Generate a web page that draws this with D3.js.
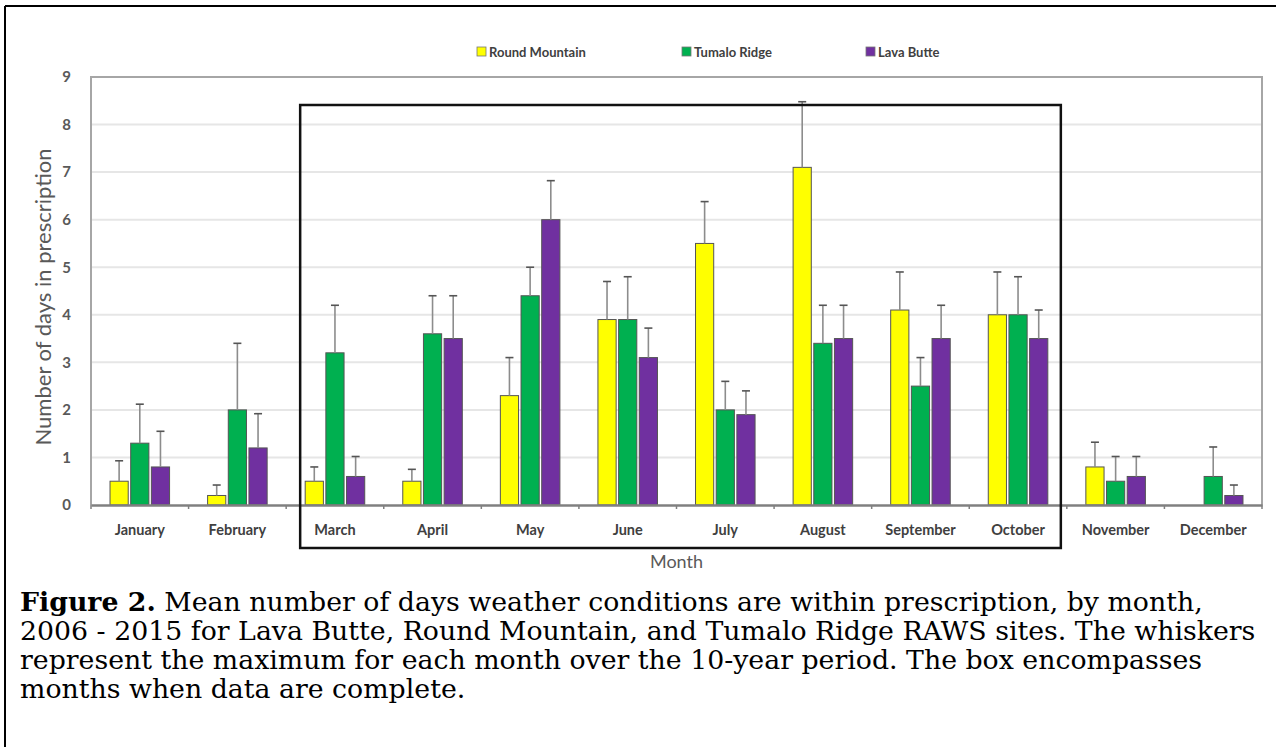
<!DOCTYPE html>
<html>
<head>
<meta charset="utf-8">
<script src="https://cdn.jsdelivr.net/npm/d3@7/dist/d3.min.js"></script>
<style>
  html, body { margin: 0; padding: 0; background: #fff; }
  svg { display: block; }
</style>
</head>
<body>
<svg id="chart" width="1276" height="747"></svg>
<script>
const months = ["January","February","March","April","May","June","July","August","September","October","November","December"];
const series = ["Round Mountain","Tumalo Ridge","Lava Butte"];
const colors = ["#FFFF00","#00B050","#7030A0"];
const roundMountain     = [0.5, 0.2, 0.5, 0.5, 2.3, 3.9, 5.5, 7.1, 4.1, 4.0, 0.8, 0];
const roundMountainMax  = [0.93, 0.42, 0.8, 0.75, 3.1, 4.7, 6.38, 8.48, 4.9, 4.9, 1.32, null];
const tumaloRidge       = [1.3, 2.0, 3.2, 3.6, 4.4, 3.9, 2.0, 3.4, 2.5, 4.0, 0.5, 0.6];
const tumaloRidgeMax    = [2.12, 3.4, 4.2, 4.4, 5.0, 4.8, 2.6, 4.2, 3.1, 4.8, 1.02, 1.22];
const lavaButte         = [0.8, 1.2, 0.6, 3.5, 6.0, 3.1, 1.9, 3.5, 3.5, 3.5, 0.6, 0.2];
const lavaButteMax      = [1.55, 1.92, 1.02, 4.4, 6.82, 3.72, 2.4, 4.2, 4.2, 4.1, 1.02, 0.42];
const yTicks = [0,1,2,3,4,5,6,7,8,9];
const boxMonths = ["March","October"];
const yTitle = "Number of days in prescription";
const xTitle = "Month";
const captionBold = "Figure 2.";
const captionLines = [
  " Mean number of days weather conditions are within prescription, by month,",
  "2006 - 2015 for Lava Butte, Round Mountain, and Tumalo Ridge RAWS sites. The whiskers",
  "represent the maximum for each month over the 10-year period. The box encompasses",
  "months when data are complete."
];

const values = [roundMountain, tumaloRidge, lavaButte];
const maxes = [roundMountainMax, tumaloRidgeMax, lavaButteMax];

const svg = d3.select("#chart");
const W = 1276, H = 747;
const plot = {left: 91, right: 1262, top: 77, bottom: 505};

// outer frame
svg.append("line").attr("x1",5).attr("x2",W).attr("y1",6).attr("y2",6).attr("stroke","#000").attr("stroke-width",2);
svg.append("line").attr("x1",5).attr("x2",5).attr("y1",6).attr("y2",H).attr("stroke","#000").attr("stroke-width",2);

const x0 = d3.scaleBand().domain(months).range([plot.left, plot.right]).paddingInner(0).paddingOuter(0);
const x1 = d3.scaleBand().domain(series).range([0, x0.bandwidth()]).paddingInner(0.12).paddingOuter(0.92);
const y = d3.scaleLinear().domain([0, 9]).range([plot.bottom, plot.top]);

const chartFont = "Lato, 'Open Sans', sans-serif";

// gridlines
svg.append("g").selectAll("line").data(yTicks.filter(d => d > 0 && d < 9)).join("line")
  .attr("x1", plot.left).attr("x2", plot.right)
  .attr("y1", d => y(d)).attr("y2", d => y(d))
  .attr("stroke", "#e6e6e6").attr("stroke-width", 2);

// plot frame (top, left, right)
svg.append("path")
  .attr("d", `M${plot.left},${plot.bottom} V${y(9)} H${plot.right} V${plot.bottom}`)
  .attr("fill","none").attr("stroke","#a6a6a6").attr("stroke-width",2);

// y axis labels
const yAxis = d3.axisLeft(y).tickValues(yTicks).tickSize(0).tickPadding(20);
const gy = svg.append("g").attr("transform", `translate(${plot.left},0)`).call(yAxis);
gy.select(".domain").remove();
gy.selectAll("text").attr("font-family", chartFont).attr("font-weight", "bold")
  .attr("font-size", 15).attr("fill", "#595959");

// bars
const groups = svg.append("g").selectAll("g").data(months).join("g")
  .attr("transform", d => `translate(${x0(d)},0)`);

series.forEach((s, si) => {
  groups.filter((m, i) => values[si][i] > 0).append("rect")
    .attr("x", x1(s))
    .attr("width", x1.bandwidth())
    .attr("y", (m) => y(values[si][months.indexOf(m)]))
    .attr("height", (m) => y(0) - y(values[si][months.indexOf(m)]))
    .attr("fill", colors[si])
    .attr("stroke", "#555").attr("stroke-width", 1);
});

// whiskers
series.forEach((s, si) => {
  const g = groups.filter((m, i) => maxes[si][i] != null);
  const cx = x1(s) + x1.bandwidth() / 2;
  g.append("line")
    .attr("x1", cx).attr("x2", cx)
    .attr("y1", m => y(values[si][months.indexOf(m)]))
    .attr("y2", m => y(maxes[si][months.indexOf(m)]))
    .attr("stroke", "#8c8c8c").attr("stroke-width", 1.6);
  g.append("line")
    .attr("x1", cx - 4).attr("x2", cx + 4)
    .attr("y1", m => y(maxes[si][months.indexOf(m)]))
    .attr("y2", m => y(maxes[si][months.indexOf(m)]))
    .attr("stroke", "#555").attr("stroke-width", 1.6);
});

// x axis
const xAxis = d3.axisBottom(x0).tickSize(0).tickPadding(20);
const gx = svg.append("g").attr("transform", `translate(0,${plot.bottom})`).call(xAxis);
gx.select(".domain").attr("stroke", "#808080").attr("stroke-width", 2.5);
gx.selectAll("text").attr("font-family", chartFont).attr("font-weight", "bold")
  .attr("font-size", 14.5).attr("fill", "#404040");
// boundary tick marks
svg.append("g").selectAll("line").data(months.map(m => x0(m)).concat([plot.right])).join("line")
  .attr("x1", d => d).attr("x2", d => d)
  .attr("y1", plot.bottom).attr("y2", plot.bottom + 4)
  .attr("stroke", "#808080").attr("stroke-width", 1.5);

// box around complete months
const bx0 = x0(boxMonths[0]) + 14;
const bx1 = x0(boxMonths[1]) + x0.bandwidth() - 6;
svg.append("rect")
  .attr("x", bx0).attr("y", 105)
  .attr("width", bx1 - bx0).attr("height", 548 - 105)
  .attr("fill", "none").attr("stroke", "#111").attr("stroke-width", 2.5);

// legend
const legendX = [477, 682, 866];
const lg = svg.append("g").selectAll("g").data(series).join("g")
  .attr("transform", (d, i) => `translate(${legendX[i]},52)`);
lg.append("rect").attr("x", 0).attr("y", -5).attr("width", 9).attr("height", 9)
  .attr("fill", (d, i) => colors[i]).attr("stroke", "#777").attr("stroke-width", 0.8);
lg.append("text").attr("x", 12).attr("y", 0).attr("dy", "0.35em")
  .attr("font-family", chartFont).attr("font-weight", "bold").attr("font-size", 13)
  .attr("fill", "#404040").text(d => d);

// axis titles
svg.append("text")
  .attr("transform", `translate(43,${(plot.top + plot.bottom) / 2 + 6}) rotate(-90)`)
  .attr("text-anchor", "middle").attr("dy", "0.35em")
  .attr("font-family", chartFont).attr("font-size", 22).attr("fill", "#595959")
  .text(yTitle);
svg.append("text")
  .attr("x", (plot.left + plot.right) / 2).attr("y", 562).attr("dy", "0.35em")
  .attr("text-anchor", "middle")
  .attr("font-family", chartFont).attr("font-size", 18).attr("fill", "#595959")
  .text(xTitle);

// caption: size the font so the widest line spans the caption width
const capFont = "'DejaVu Serif', 'Liberation Serif', serif";
const baselines = [611, 640, 669, 698];
const capTexts = captionLines.map((line, i) => {
  const t = svg.append("text").attr("x", 20).attr("y", baselines[i])
    .attr("font-family", capFont).attr("font-size", 20).attr("fill", "#000");
  if (i === 0) t.append("tspan").attr("font-weight", "bold").text(captionBold);
  t.append("tspan").text(line);
  return t;
});
const w2 = capTexts[1].node().getComputedTextLength();
const capSize = 20 * 1236 / w2;
capTexts.forEach(t => t.attr("font-size", capSize));
</script>
</body>
</html>
